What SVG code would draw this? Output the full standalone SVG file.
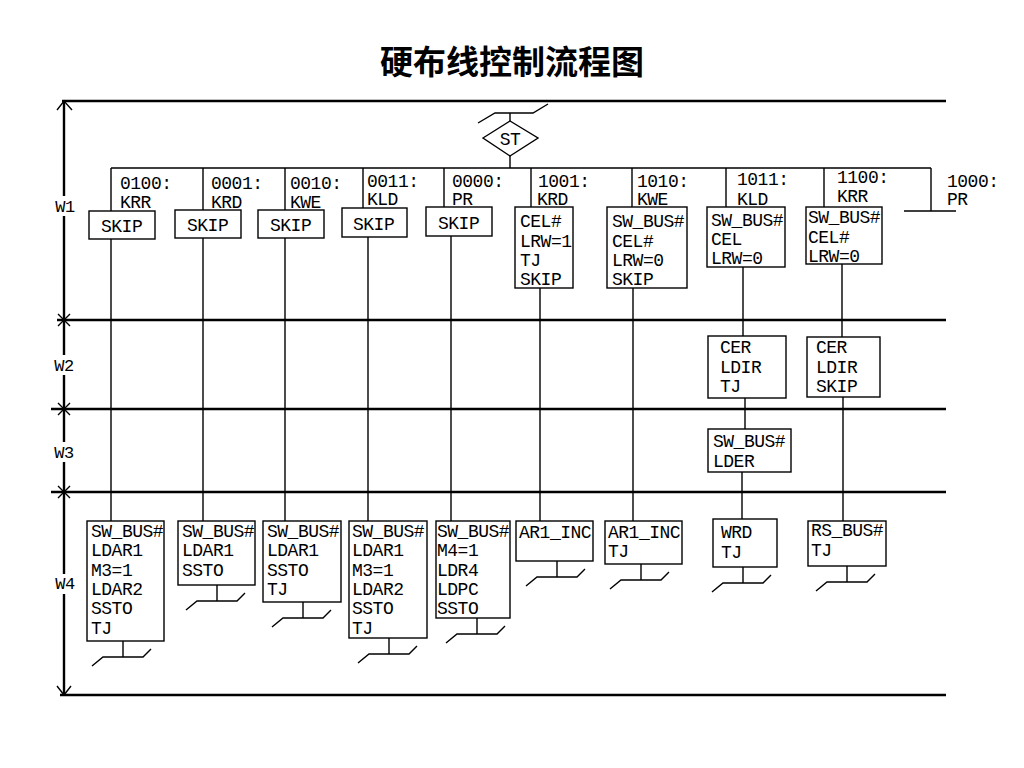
<svg xmlns="http://www.w3.org/2000/svg" width="1024" height="768" viewBox="0 0 1024 768">
<style>
.t{font-family:"Liberation Mono","DejaVu Sans Mono",monospace;font-size:18px;letter-spacing:-0.5px;fill:#000}
.w{font-family:"Liberation Mono","DejaVu Sans Mono",monospace;font-size:17px;letter-spacing:-0.5px;fill:#000;text-anchor:middle}
.title{font-family:"Noto Sans CJK SC","Noto Sans",sans-serif;font-size:33px;font-weight:bold;fill:#000;text-anchor:middle}
.box{fill:#fff;stroke:#000;stroke-width:1.4}
.ln{stroke:#000;stroke-width:1.4;fill:none}
.rule{stroke:#000;stroke-width:2.4;fill:none}
</style>
<defs>
<path id="gnd" class="ln" d="M0,0 V16 M-31,25 L-20,16 H20 L28,8"/>
</defs>
<rect width="1024" height="768" fill="#fff"/>
<text class="title" x="512" y="74">硬布线控制流程图</text>

<g id="frame">
<line class="rule" x1="62" y1="101" x2="946" y2="101"/>
<line class="rule" x1="57" y1="320" x2="946" y2="320"/>
<line class="rule" x1="51" y1="409" x2="946" y2="409"/>
<line class="rule" x1="51" y1="492" x2="946" y2="492"/>
<line class="rule" x1="60" y1="695" x2="946" y2="695"/>
<line class="rule" x1="64" y1="101" x2="64" y2="695"/>
<path class="ln" d="M57,110 L64,101 L72,110 M57,686 L64,695 L71,686"/>
<path class="ln" d="M58,314 L70,326 M58,326 L70,314 M58,403 L70,415 M58,415 L70,403 M58,486 L70,498 M58,498 L70,486"/>
<rect x="52" y="196" width="24" height="20" fill="#fff"/>
<rect x="52" y="355" width="24" height="20" fill="#fff"/>
<rect x="52" y="442" width="24" height="20" fill="#fff"/>
<rect x="52" y="574" width="24" height="20" fill="#fff"/>
<text class="w" x="65" y="212">W1</text>
<text class="w" x="64" y="371">W2</text>
<text class="w" x="64" y="458">W3</text>
<text class="w" x="65" y="589">W4</text>
</g>

<g id="connectors">
<path class="ln" d="M478,123 L495,113 H533 L548,104 M510,113 V121 M510,156 V168 M111,168 H931"/>
<path class="ln" d="M111,168 V211 M111,239 V521"/>
<path class="ln" d="M203,168 V210 M203,238 V521"/>
<path class="ln" d="M285,168 V210 M285,238 V521"/>
<path class="ln" d="M363,168 V208 M368,237 V521"/>
<path class="ln" d="M444,168 V207 M451,236 V521"/>
<path class="ln" d="M531,168 V207 M540,288 V521"/>
<path class="ln" d="M632,168 V207 M633,288 V521"/>
<path class="ln" d="M726,168 V207 M743,267 V336 M745,398 V429 M742,472 V519"/>
<path class="ln" d="M824,168 V207 M842,264 V337 M843,397 V521"/>
<path class="ln" d="M931,168 V211 M904,211 H956"/>
<use href="#gnd" x="123" y="641"/>
<use href="#gnd" x="217" y="585"/>
<use href="#gnd" x="303" y="602"/>
<use href="#gnd" x="389" y="638"/>
<use href="#gnd" x="477" y="618"/>
<use href="#gnd" x="557" y="561"/>
<use href="#gnd" x="641" y="564"/>
<use href="#gnd" x="743" y="567"/>
<use href="#gnd" x="847" y="566"/>
</g>

<g id="labels">
<text class="t" x="120" y="189">0100:</text><text class="t" x="120" y="208">KRR</text>
<text class="t" x="211" y="189">0001:</text><text class="t" x="211" y="208">KRD</text>
<text class="t" x="290" y="189">0010:</text><text class="t" x="290" y="208">KWE</text>
<text class="t" x="367" y="187">0011:</text><text class="t" x="367" y="205">KLD</text>
<text class="t" x="452" y="187">0000:</text><text class="t" x="452" y="205">PR</text>
<text class="t" x="538" y="187">1001:</text><text class="t" x="537" y="205">KRD</text>
<text class="t" x="637" y="187">1010:</text><text class="t" x="637" y="205">KWE</text>
<text class="t" x="737" y="185">1011:</text><text class="t" x="737" y="205">KLD</text>
<text class="t" x="837" y="183">1100:</text><text class="t" x="837" y="202">KRR</text>
<text class="t" x="947" y="187">1000:</text><text class="t" x="947" y="205">PR</text>
</g>

<g id="st">
<polygon class="box" points="483,138 510,121 538,138 510,156"/>
<text class="t" x="510" y="145" text-anchor="middle" font-size="16">ST</text>
</g>

<g id="w1-skip1"><rect class="box" x="89" y="211" width="66" height="28"/><text class="t" x="101" y="232">SKIP</text></g>
<g id="w1-skip2"><rect class="box" x="175" y="210" width="66" height="28"/><text class="t" x="187" y="231">SKIP</text></g>
<g id="w1-skip3"><rect class="box" x="258" y="210" width="66" height="28"/><text class="t" x="270" y="231">SKIP</text></g>
<g id="w1-skip4"><rect class="box" x="342" y="208" width="65" height="29"/><text class="t" x="353" y="230">SKIP</text></g>
<g id="w1-skip5"><rect class="box" x="426" y="207" width="66" height="29"/><text class="t" x="438" y="229">SKIP</text></g>
<g id="w1-b6"><rect class="box" x="515" y="207" width="58" height="81"/>
<text class="t" x="520" y="227">CEL#</text><text class="t" x="520" y="247">LRW=1</text><text class="t" x="520" y="266">TJ</text><text class="t" x="520" y="285">SKIP</text></g>
<g id="w1-b7"><rect class="box" x="607" y="207" width="80" height="81"/>
<text class="t" x="612" y="227">SW_BUS#</text><text class="t" x="612" y="247">CEL#</text><text class="t" x="612" y="266">LRW=0</text><text class="t" x="612" y="285">SKIP</text></g>
<g id="w1-b8"><rect class="box" x="707" y="207" width="78" height="60"/>
<text class="t" x="711" y="226">SW_BUS#</text><text class="t" x="711" y="245">CEL</text><text class="t" x="711" y="264">LRW=0</text></g>
<g id="w1-b9"><rect class="box" x="806" y="207" width="76" height="57"/>
<text class="t" x="808" y="223">SW_BUS#</text><text class="t" x="808" y="243">CEL#</text><text class="t" x="808" y="262">LRW=0</text></g>

<g id="w2-a"><rect class="box" x="708" y="336" width="78" height="62"/>
<text class="t" x="720" y="353">CER</text><text class="t" x="720" y="373">LDIR</text><text class="t" x="720" y="392">TJ</text></g>
<g id="w2-b"><rect class="box" x="807" y="337" width="73" height="60"/>
<text class="t" x="816" y="353">CER</text><text class="t" x="816" y="373">LDIR</text><text class="t" x="816" y="392">SKIP</text></g>
<g id="w3-a"><rect class="box" x="708" y="429" width="83" height="43"/>
<text class="t" x="713" y="447">SW_BUS#</text><text class="t" x="713" y="467">LDER</text></g>

<g id="w4-1"><rect class="box" x="87" y="521" width="77" height="120"/>
<text class="t" x="91" y="537">SW_BUS#</text><text class="t" x="91" y="556">LDAR1</text><text class="t" x="91" y="576">M3=1</text><text class="t" x="91" y="595">LDAR2</text><text class="t" x="91" y="614">SSTO</text><text class="t" x="91" y="634">TJ</text></g>
<g id="w4-2"><rect class="box" x="178" y="521" width="77" height="64"/>
<text class="t" x="182" y="537">SW_BUS#</text><text class="t" x="182" y="556">LDAR1</text><text class="t" x="182" y="576">SSTO</text></g>
<g id="w4-3"><rect class="box" x="263" y="521" width="78" height="81"/>
<text class="t" x="267" y="537">SW_BUS#</text><text class="t" x="267" y="556">LDAR1</text><text class="t" x="267" y="576">SSTO</text><text class="t" x="267" y="595">TJ</text></g>
<g id="w4-4"><rect class="box" x="349" y="521" width="78" height="117"/>
<text class="t" x="352" y="537">SW_BUS#</text><text class="t" x="352" y="556">LDAR1</text><text class="t" x="352" y="576">M3=1</text><text class="t" x="352" y="595">LDAR2</text><text class="t" x="352" y="614">SSTO</text><text class="t" x="352" y="634">TJ</text></g>
<g id="w4-5"><rect class="box" x="436" y="521" width="74" height="97"/>
<text class="t" x="437" y="537">SW_BUS#</text><text class="t" x="437" y="556">M4=1</text><text class="t" x="437" y="576">LDR4</text><text class="t" x="437" y="595">LDPC</text><text class="t" x="437" y="614">SSTO</text></g>
<g id="w4-6"><rect class="box" x="516" y="521" width="77" height="40"/>
<text class="t" x="519" y="538">AR1_INC</text></g>
<g id="w4-7"><rect class="box" x="605" y="521" width="77" height="43"/>
<text class="t" x="608" y="538">AR1_INC</text><text class="t" x="608" y="557">TJ</text></g>
<g id="w4-8"><rect class="box" x="713" y="519" width="64" height="48"/>
<text class="t" x="721" y="538">WRD</text><text class="t" x="721" y="558">TJ</text></g>
<g id="w4-9"><rect class="box" x="808" y="521" width="78" height="45"/>
<text class="t" x="811" y="536">RS_BUS#</text><text class="t" x="811" y="556">TJ</text></g>
</svg>
